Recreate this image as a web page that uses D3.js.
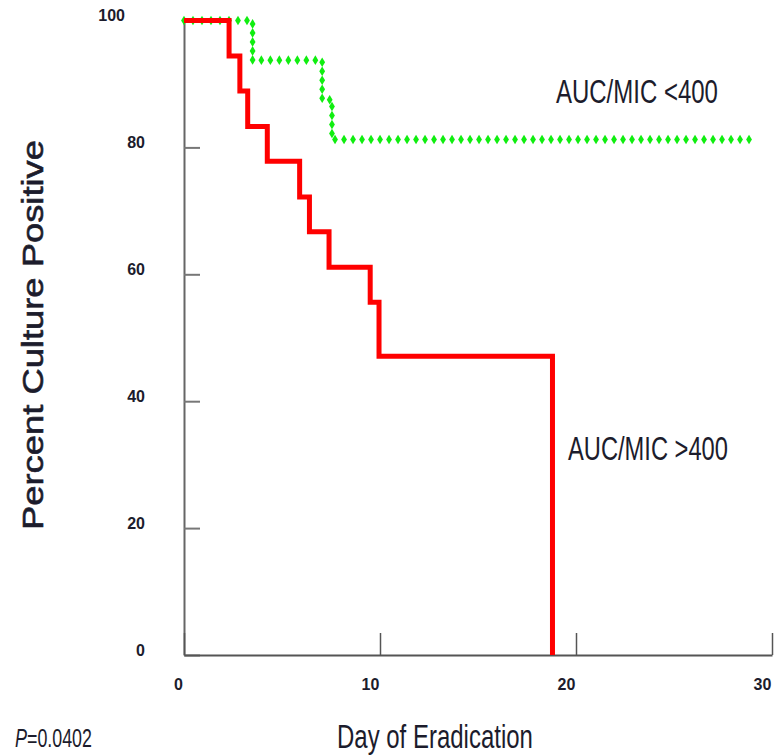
<!DOCTYPE html>
<html>
<head>
<meta charset="utf-8">
<script src="https://cdn.jsdelivr.net/npm/d3@7"></script>
<style>
  html, body { margin: 0; padding: 0; background: #fff; }
  svg { display: block; }
  text { font-family: "Liberation Sans Narrow", "Liberation Sans", Arial, sans-serif; fill: #1c1c2c; }
</style>
</head>
<body>
<svg id="chart" width="780" height="755"></svg>
<script>
// ---- data ----
// Kaplan-Meier style step data: [day, percent culture positive]
const highDays    = [0, 2.3, 2.85, 3.25, 4.25, 5.9, 6.4, 7.4, 9.5, 9.95, 18.8];
const highPercent = [100, 94.4, 88.9, 83.3, 77.8, 72.2, 66.7, 61.1, 55.6, 47.1, 0];
const lowDays     = [0, 3.5, 7.05, 7.55, 28.9];
const lowPercent  = [100, 93.75, 87.5, 81.25, 81.25];
const xTicks = [0, 10, 20, 30];
const yTicks = [0, 20, 40, 60, 80, 100];
const seriesLabels = ["AUC/MIC <400", "AUC/MIC >400"];
const xTitle = "Day of Eradication";
const yTitle = "Percent Culture Positive";
const pValue = "0.0402";

// ---- layout ----
const svg = d3.select("#chart");
const x = d3.scaleLinear().domain([0, 30]).range([184, 772]);
const y = d3.scaleLinear().domain([0, 100]).range([655, 20.5]);

const toPts = (xs, ys) => xs.map((d, i) => [d, ys[i]]);
const line = d3.line().x(d => x(d[0])).y(d => y(d[1])).curve(d3.curveStepAfter);

// helper: place text at (px,py), scaled horizontally to a target width
function fitText(str, px, py, size, width, opts = {}) {
  const g = svg.append("g");
  const t = g.append("text").style("font-size", size + "px").text(str);
  if (opts.family) t.style("font-family", opts.family);
  if (opts.italic) t.style("font-style", "italic");
  if (opts.stroke) t.attr("stroke", "#1c1c2c").attr("stroke-width", opts.stroke);
  const w = t.node().getComputedTextLength();
  const s = width / w;
  const rot = opts.rotate ? ` rotate(${opts.rotate})` : "";
  g.attr("transform", `translate(${px},${py})${rot} scale(${s},1)`);
  return t;
}

// axes
const yAxis = d3.axisLeft(y).tickValues(yTicks).tickSize(-16).tickSizeOuter(0).tickFormat(d3.format("d"));
const gy = svg.append("g").attr("transform", `translate(${x(0)},0)`).call(yAxis);
gy.select(".domain").attr("stroke", "#666").attr("stroke-width", 2);
gy.selectAll(".tick line").attr("stroke", "#777").attr("stroke-width", 2);
gy.selectAll(".tick text")
  .attr("x", d => d === 100 ? -59 : -39)
  .attr("dy", "0.32em")
  .attr("transform", "translate(0,-5)")
  .style("font-size", "16px").style("font-weight", "bold")
  .attr("fill", "#1c1c2c");

const xAxis = d3.axisBottom(x).tickValues(xTicks).tickSize(-22).tickSizeOuter(0);
const gx = svg.append("g").attr("transform", `translate(0,${y(0)})`).call(xAxis);
gx.select(".domain").attr("stroke", "#555").attr("stroke-width", 2);
gx.selectAll(".tick line").attr("stroke", "#555").attr("stroke-width", 1.5);
gx.selectAll(".tick text")
  .attr("y", 29).attr("dy", "0.35em")
  .attr("x", d => d === 0 ? -6 : -10)
  .style("font-size", "16px").style("font-weight", "bold")
  .attr("fill", "#1c1c2c");

// green dotted (diamond) series
const lowPath = svg.append("path")
  .attr("d", line(toPts(lowDays, lowPercent)))
  .attr("fill", "none").attr("stroke", "none");
const node = lowPath.node();
const total = node.getTotalLength();
const samples = d3.range(0, total + 0.01, 9).map(l => node.getPointAtLength(l));
svg.append("g").selectAll("path.dia").data(samples).join("path")
  .attr("class", "dia")
  .attr("d", "M0,-4.8L2.9,0L0,4.8L-2.9,0Z")
  .attr("transform", p => `translate(${p.x},${p.y})`)
  .attr("fill", "#10ee10");

// red series
svg.append("path")
  .attr("d", line(toPts(highDays, highPercent)))
  .attr("fill", "none")
  .attr("stroke", "#ff0000")
  .attr("stroke-width", 5)
  .attr("stroke-linejoin", "miter")
  .attr("stroke-linecap", "butt");

// series labels
fitText(seriesLabels[0], 556, 103, 34, 162);
fitText(seriesLabels[1], 568, 460, 34, 160);

// axis titles
fitText(xTitle, 337, 748, 33, 196);
fitText(yTitle, 43, 530, 30, 390, { family: "'Liberation Sans', Arial, sans-serif", rotate: -90, stroke: 0.6 });

// p value
fitText("P", 15, 747, 26, 12, { italic: true });
fitText("=" + pValue, 27, 747, 26, 65);
</script>
</body>
</html>
